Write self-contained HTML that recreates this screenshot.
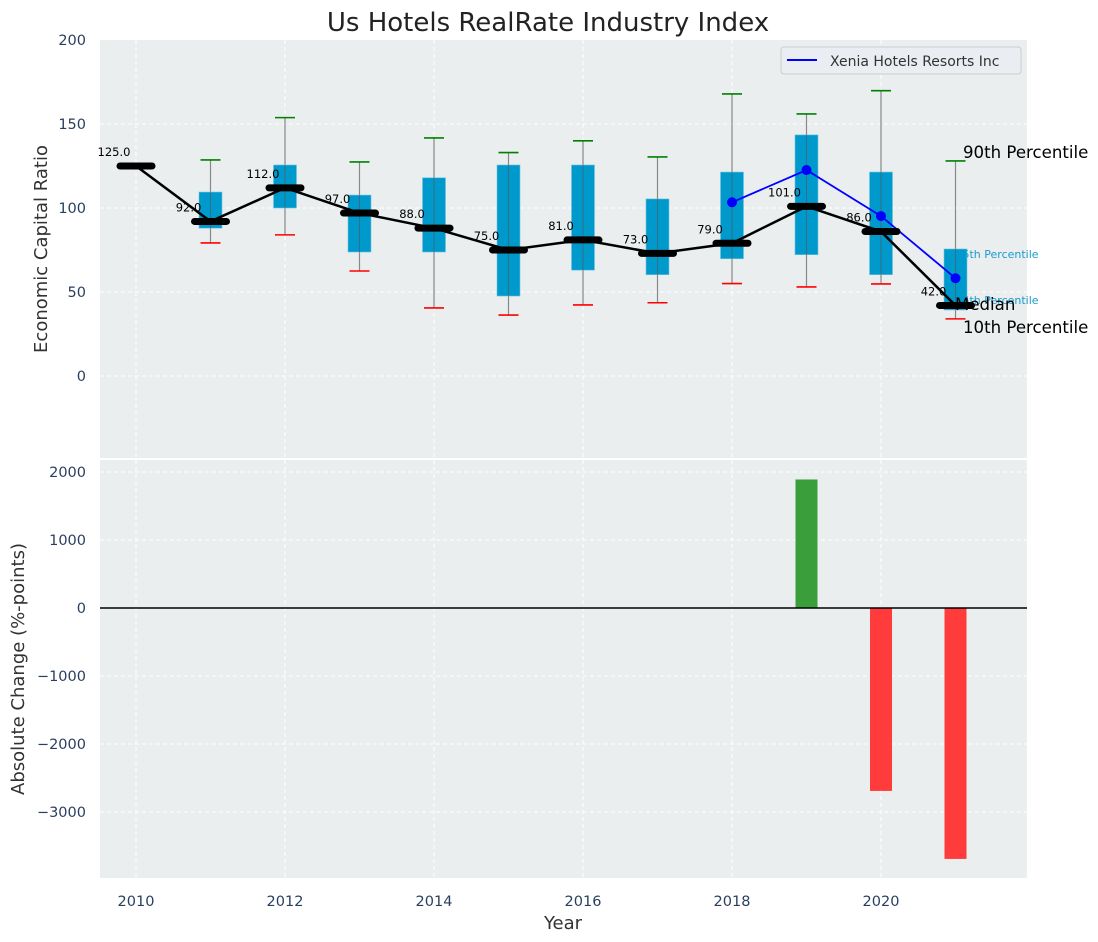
<!DOCTYPE html>
<html><head><meta charset="utf-8"><style>
body{margin:0;background:#fff;}
svg{display:block;font-family:"DejaVu Sans","Liberation Sans",sans-serif;}
</style></head><body>
<svg id="chart" width="1098" height="942" xmlns="http://www.w3.org/2000/svg">
<text x="548" y="31" text-anchor="middle" font-size="26" fill="#222">Us Hotels RealRate Industry Index</text>
<rect x="100" y="40" width="927" height="418" fill="#eaeeef"/>
<rect x="100" y="460" width="927" height="418" fill="#eaeeef"/>
<g id="topg"></g><g id="botg"></g>
<text transform="translate(47,249) rotate(-90)" text-anchor="middle" font-size="18" fill="#333">Economic Capital Ratio</text>
<text transform="translate(24,669) rotate(-90)" text-anchor="middle" font-size="18" fill="#333">Absolute Change (%-points)</text>
<text x="563" y="929" text-anchor="middle" font-size="18" fill="#333">Year</text>
<g>
<rect x="781" y="47" width="240" height="27" rx="3" fill="#eaeef2" stroke="#ccc"/>
<line x1="787" y1="60" x2="817" y2="60" stroke="#0000ff" stroke-width="2"/>
<text x="830" y="66" font-size="14" fill="#333">Xenia Hotels Resorts Inc</text>
</g>
</svg>
<script>
const years=[2010,2011,2012,2013,2014,2015,2016,2017,2018,2019,2020,2021];
const medians=[125,92,112,97,88,75,81,73,79,101,86,42];
const boxYears=[2011,2012,2013,2014,2015,2016,2017,2018,2019,2020,2021];
const p90=[128.6,153.8,127.4,141.7,133,140,130.4,167.9,156,169.8,128];
const p75=[109.5,125.6,107.7,118,125.6,125.6,105.4,121.4,143.5,121.4,75.6];
const p25=[88,100,73.8,73.8,47.6,63,60.3,69.8,72.2,60.3,39.3];
const p10=[79.2,84,62.5,40.5,36.3,42.3,43.6,55,53,54.8,34];
const xeniaYears=[2018,2019,2020,2021];
const xeniaValues=[103.4,122.6,95.2,58.2];
const changeYears=[2019,2020,2021];
const changeValues=[1890,-2690,-3690];
const topTicks=[0,50,100,150,200];
const botTicks=[-3000,-2000,-1000,0,1000,2000];
const xTicks=[2010,2012,2014,2016,2018,2020];

const NS="http://www.w3.org/2000/svg";
const X=y=>136+(y-2010)*74.5;
const YT=v=>376-1.68*v;
const YB=v=>608-0.068*v;
function mk(parent,tag,attrs,text){const e=document.createElementNS(NS,tag);for(const k in attrs)e.setAttribute(k,attrs[k]);if(text!==undefined)e.textContent=text;parent.appendChild(e);return e;}
const gTop=document.getElementById('topg'),gBot=document.getElementById('botg');
const tickCol="#2a3f5f";
xTicks.forEach(t=>{
 let g=mk(gTop,'line',{x1:X(t),x2:X(t),y1:40,y2:458,stroke:'#fff','stroke-dasharray':'4,3','stroke-width':1});
 
 
 let g2=mk(gBot,'line',{x1:X(t),x2:X(t),y1:460,y2:878,stroke:'#fff','stroke-dasharray':'4,3','stroke-width':1});
 
 
 let l=mk(gBot,'text',{x:X(t),y:906,'text-anchor':'middle','font-size':14.5,fill:tickCol},String(t));
 
 
});
topTicks.forEach(t=>{
 if(t<200){let g=mk(gTop,'line',{x1:100,x2:1027,y1:YT(t),y2:YT(t),stroke:'#fff','stroke-dasharray':'4,3'});
 
 }
 let l=mk(gTop,'text',{x:86,y:YT(t)+5,'text-anchor':'end','font-size':14.5,fill:tickCol},String(t));
 
 
});
botTicks.forEach(t=>{
 let g=mk(gBot,'line',{x1:100,x2:1027,y1:YB(t),y2:YB(t),stroke:'#fff','stroke-dasharray':'4,3'});
 
 
 let l=mk(gBot,'text',{x:86,y:YB(t)+5,'text-anchor':'end','font-size':14.5,fill:tickCol},t<0?'\u2212'+Math.abs(t):String(t));
 
 
});
const last=boxYears.length-1;
let a1=mk(gTop,'text',{x:X(2021),y:YT(p75[last])+9,'font-size':11,fill:'#1a9bcc'},'75th Percentile');


let a2=mk(gTop,'text',{x:X(2021),y:YT(p25[last])-6,'font-size':11,fill:'#1a9bcc'},'25th Percentile');


boxYears.forEach((yr,i)=>{
 const x=X(yr);
 let w=mk(gTop,'line',{x1:x,x2:x,y1:YT(p90[i]),y2:YT(p10[i]),stroke:'#888','stroke-width':1.2});
 
 
 let b=mk(gTop,'rect',{x:x-11.5,y:YT(p75[i]),width:23,height:YT(p25[i])-YT(p75[i]),fill:'#0099cc',stroke:'#6fc3e0','stroke-width':0.6});
 
 
 let w2=mk(gTop,'line',{x1:x,x2:x,y1:YT(p75[i]),y2:YT(p25[i]),stroke:'#555','stroke-width':1,opacity:0.6});
 
 
 let c1=mk(gTop,'line',{x1:x-10,x2:x+10,y1:YT(p90[i]),y2:YT(p90[i]),stroke:'#008000','stroke-width':1.6});
 
 
 let c2=mk(gTop,'line',{x1:x-10,x2:x+10,y1:YT(p10[i]),y2:YT(p10[i]),stroke:'#ff0000','stroke-width':1.6});
 
 
});
let xp=mk(gTop,'polyline',{points:xeniaYears.map((y,i)=>X(y)+','+YT(xeniaValues[i])).join(' '),fill:'none',stroke:'#0000ff','stroke-width':1.8});


xeniaYears.forEach((y,i)=>{
 let c=mk(gTop,'circle',{cx:X(y),cy:YT(xeniaValues[i]),r:5,fill:'#0000ff'});
 
 
});
let mp=mk(gTop,'polyline',{points:years.map((y,i)=>X(y)+','+YT(medians[i])).join(' '),fill:'none',stroke:'#000','stroke-width':2.5});


years.forEach((y,i)=>{
 let m=mk(gTop,'line',{x1:X(y)-16,x2:X(y)+16,y1:YT(medians[i]),y2:YT(medians[i]),stroke:'#000','stroke-width':7,'stroke-linecap':'round'});
 
 
 let t=mk(gTop,'text',{x:X(y)-22,y:YT(medians[i])-10,'text-anchor':'middle','font-size':11.5,fill:'#000'},medians[i].toFixed(1));
 
 
});
let a3=mk(gTop,'text',{x:963,y:158,'font-size':16.6,fill:'#000'},'90th Percentile');


let a4=mk(gTop,'text',{x:955,y:310,'font-size':16.6,fill:'#000'},'Median');


let a5=mk(gTop,'text',{x:963,y:333,'font-size':16.6,fill:'#000'},'10th Percentile');


changeYears.forEach((y,i)=>{
 const v=changeValues[i];
 let r=mk(gBot,'rect',{x:X(y)-11,width:22,y:Math.min(YB(v),YB(0)),height:Math.abs(YB(v)-YB(0)),fill:v>=0?'#3a9e3a':'#ff3b3b'});
 
 
});
let z=mk(gBot,'line',{x1:100,x2:1027,y1:YB(0),y2:YB(0),stroke:'#000','stroke-width':1.4});


</script>
</body></html>
